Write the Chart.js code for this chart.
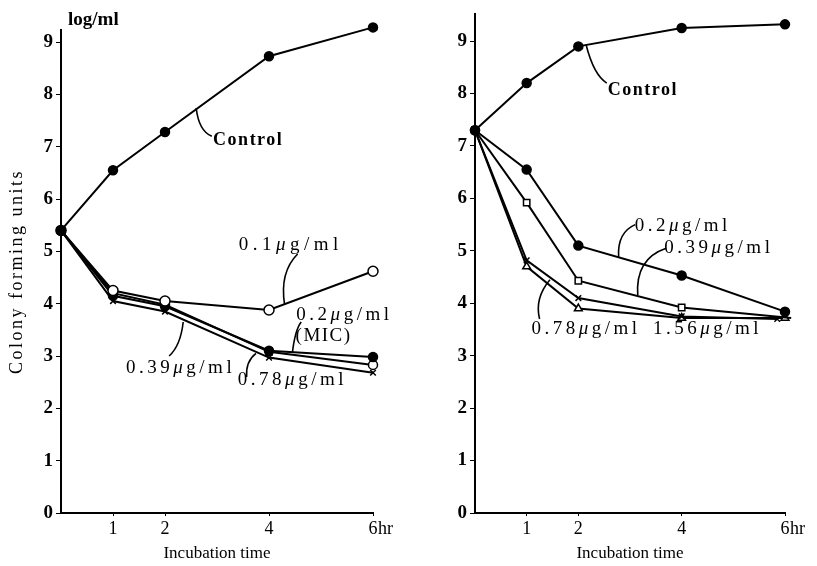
<!DOCTYPE html>
<html>
<head>
<meta charset="utf-8">
<script src="https://cdn.jsdelivr.net/npm/chart.js@4"></script>
<style>
  body { margin:0; background:#fff; }
  #wrap { position:relative; width:817px; height:566px; }
  canvas { position:absolute; top:0; }
  #leftC { left:0; }
  #rightC { left:400px; }
  #unit { position:absolute; left:68px; top:8px; font:bold 19px "Liberation Serif", serif; }
</style>
</head>
<body>
<div id="wrap">
  <canvas id="leftC" width="400" height="566"></canvas>
  <canvas id="rightC" width="417" height="566"></canvas>
  <div id="unit">log/ml</div>
</div>
<script>
const hours = [0, 1, 2, 4, 6];
const xTicks = [1, 2, 4, 6];
const yTicks = [0, 1, 2, 3, 4, 5, 6, 7, 8, 9];

// left panel
const leftControl = [5.4, 6.55, 7.28, 8.73, 9.28];
const left01 = [5.4, 4.25, 4.05, 3.88, 4.62];
const left02 = [5.4, 4.15, 3.95, 3.1, 2.98];
const left039 = [5.4, 4.2, 3.98, 3.08, 2.83];
const left078 = [5.4, 4.05, 3.85, 2.97, 2.68];

// right panel
const rightControl = [7.3, 8.2, 8.9, 9.25, 9.32];
const right02 = [7.3, 6.55, 5.1, 4.53, 3.84];
const right039Hours = [0, 1, 2, 4, 6.12];
const right039 = [7.3, 5.92, 4.43, 3.92, 3.72];
const right078Hours = [0, 1, 2, 4, 5.85];
const right078 = [7.3, 4.82, 4.1, 3.75, 3.7];
const right156 = [7.3, 4.7, 3.9, 3.72, 3.72];

const serif = '"Liberation Serif", "DejaVu Serif", serif';

const pts = (xs, ys) => ys.map((y, i) => ({x: xs[i], y}));

function series(xs, ys, style, filled, radius){
  return {
    data: pts(xs, ys), showLine: true, borderColor: "#000", borderWidth: 2,
    pointStyle: style, pointRadius: radius || 4.5, pointBorderWidth: 1.5,
    pointBackgroundColor: filled ? "#000" : "#fff", pointBorderColor: "#000",
    clip: false
  };
}

const leftNotes = [
  {text: "Control", x: 3.6, y: 7.12, bold: true, leader: [2.6, 7.74, 2.65, 7.3, 2.9, 7.2]},
  {text: "0.1\u03bcg/ml", x: 4.42, y: 5.13, sp: 4.5, leader: [4.3, 3.98, 4.2, 4.6, 4.55, 4.95]},
  {text: "0.2\u03bcg/ml", x: 5.45, y: 3.78, leader: [4.45, 3.06, 4.5, 3.5, 4.62, 3.65]},
  {text: "(MIC)", x: 5.05, y: 3.38, sp: 1.5},
  {text: "0.39\u03bcg/ml", x: 2.3, y: 2.78, leader: [2.35, 3.65, 2.3, 3.2, 2.08, 3.0]},
  {text: "0.78\u03bcg/ml", x: 4.45, y: 2.55, leader: [3.75, 3.05, 3.55, 2.9, 3.57, 2.6]}
];

const rightNotes = [
  {text: "Control", x: 3.25, y: 8.07, bold: true, leader: [2.15, 8.93, 2.3, 8.35, 2.55, 8.2]},
  {text: "0.2\u03bcg/ml", x: 4.02, y: 5.47, leader: [2.78, 4.88, 2.75, 5.35, 3.1, 5.5]},
  {text: "0.39\u03bcg/ml", x: 4.72, y: 5.05, leader: [3.15, 4.15, 3.1, 4.85, 3.7, 5.05]},
  {text: "0.78\u03bcg/ml", x: 2.15, y: 3.5, leader: [1.45, 4.45, 1.15, 4.1, 1.25, 3.7]},
  {text: "1.56\u03bcg/ml", x: 4.5, y: 3.5}
];

// draws text centred at cx, with the Greek mu in italics
function drawLabel(ctx, n, cx, cy){
  const parts = n.text.split(/(\u03bc)/).filter(p => p);
  const fonts = parts.map(p => (n.bold ? "bold " : "") + (p === "\u03bc" ? "italic " : "") + (n.bold ? "18px " : "19px ") + serif);
  ctx.letterSpacing = (n.sp != null ? n.sp : (n.bold ? 1.5 : 3.5)) + "px";
  const widths = parts.map((p, i) => { ctx.font = fonts[i]; return ctx.measureText(p).width; });
  let x = cx - widths.reduce((a, b) => a + b, 0) / 2;
  ctx.textAlign = "left";
  parts.forEach((p, i) => { ctx.font = fonts[i]; ctx.fillText(p, x, cy); x += widths[i]; });
}

const notesPlugin = {
  id: "notes",
  afterDatasetsDraw(chart, args, opts){
    const ctx = chart.ctx, sx = chart.scales.x, sy = chart.scales.y;
    ctx.save();
    ctx.fillStyle = "#000";
    ctx.strokeStyle = "#000";
    ctx.lineWidth = 1.6;
    ctx.textBaseline = "middle";
    (opts.items || []).forEach(n => {
      drawLabel(ctx, n, sx.getPixelForValue(n.x), sy.getPixelForValue(n.y));
      if(n.leader){
        const l = n.leader;
        ctx.beginPath();
        ctx.moveTo(sx.getPixelForValue(l[0]), sy.getPixelForValue(l[1]));
        ctx.quadraticCurveTo(sx.getPixelForValue(l[2]), sy.getPixelForValue(l[3]),
                             sx.getPixelForValue(l[4]), sy.getPixelForValue(l[5]));
        ctx.stroke();
      }
    });
    // unit after the last x tick
    ctx.letterSpacing = "0px";
    ctx.font = "18px " + serif;
    ctx.textAlign = "left";
    ctx.textBaseline = "top";
    ctx.fillText("hr", sx.getPixelForValue(6) + 5, sx.top + 7);
    ctx.restore();
  }
};

// spaced-out lettering for the y title only
function spacedTitle(s){
  if(s._spaced) return;
  const orig = s.drawTitle;
  s.drawTitle = function(){
    this.ctx.letterSpacing = "2.5px";
    orig.call(this);
    this.ctx.letterSpacing = "0px";
  };
  s._spaced = true;
}

function makeChart(id, datasets, opt){
  return new Chart(document.getElementById(id), {
    type: "scatter",
    data: {datasets},
    plugins: [notesPlugin],
    options: {
      responsive: false, animation: false,
      layout: {padding: {top: opt.top, right: opt.right, left: 0, bottom: 0}},
      plugins: {legend: {display: false}, tooltip: {enabled: false}, notes: {items: opt.notes}},
      scales: {
        x: {
          type: "linear", min: 0, max: 6,
          afterBuildTicks: s => { s.ticks = xTicks.map(v => ({value: v})); },
          afterFit: s => { s.height = 53; },
          grid: {display: true, drawOnChartArea: false, tickLength: 3, color: "#000"},
          border: {color: "#000", width: 2},
          ticks: {color: "#000", font: {family: serif, size: 18}, padding: 2,
                  callback: v => String(v)},
          title: {display: true, text: "Incubation time", color: "#000",
                  font: {family: serif, size: 17}, padding: {top: 0, bottom: 2}}
        },
        y: {
          type: "linear", min: 0, max: opt.ymax,
          afterBuildTicks: s => { s.ticks = yTicks.map(v => ({value: v})); },
          afterFit: s => { s.width = opt.yWidth; spacedTitle(s); },
          grid: {display: true, drawOnChartArea: false, tickLength: 5, color: "#000"},
          border: {color: "#000", width: 2},
          ticks: {color: "#000", font: {family: serif, size: 19, weight: "bold"}, padding: 3},
          title: {display: opt.yTitle, text: "Colony forming units", color: "#000",
                  font: {family: serif, size: 18}, padding: {top: 6, bottom: 6}}
        }
      }
    }
  });
}

makeChart("leftC", [
  series(hours, leftControl, "circle", true),
  series(hours, left01, "circle", false, 5),
  series(hours, left02, "circle", true),
  series(hours, left039, ["circle", "circle", "circle", "rect", "circle"], false),
  series(hours, left078, "crossRot", false, 4)
], {top: 30, right: 27, ymax: 9.23, yWidth: 61, yTitle: true, notes: leftNotes});

makeChart("rightC", [
  series(hours, rightControl, "circle", true),
  series(hours, right02, "circle", true),
  series(right039Hours, right039, "rect", false),
  series(right078Hours, right078, "crossRot", false, 4),
  series(hours, right156, "triangle", false)
], {top: 14, right: 32, ymax: 9.51, yWidth: 75, yTitle: false, notes: rightNotes});
</script>
</body>
</html>
